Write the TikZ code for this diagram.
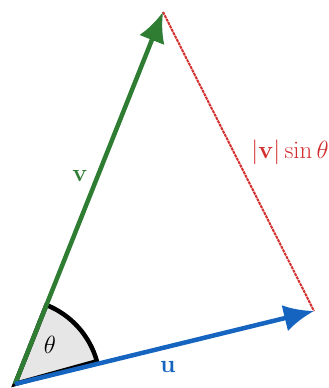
\documentclass[tikz,border=0pt]{standalone}
\usepackage{amsmath,amssymb}
\usepackage{xcolor}
\usetikzlibrary{arrows.meta}

\definecolor{vgreen}{RGB}{46,125,50}
\definecolor{ublue}{RGB}{21,101,192}
\definecolor{pred}{RGB}{211,47,47}
\definecolor{wedgegray}{RGB}{230,230,230}

\begin{document}
\begin{tikzpicture}[
    x=1pt, y=1pt,
    >={Latex[length=30pt,width=27pt]},
    vec/.style={->, line width=4.5pt},
    perp/.style={draw=pred, line width=2pt, dash pattern=on 3pt off 0.8pt},
    angwedge/.style={fill=wedgegray, draw=black, line width=4.5pt},
    lbl/.style={font=\fontsize{24}{28}\selectfont, inner sep=1pt}
]
\useasboundingbox (0,0) rectangle (329,388);

% Origin and vector tips.
\coordinate (O) at (15,4);
\coordinate (V) at (163,376);
\coordinate (U) at (314,77);

% Angle wedge between the two vectors.
\path[angwedge] (O) -- ++(15.5:85) arc[start angle=15.5, end angle=68.3, radius=85] -- cycle;
\node[lbl] (theta) at (50,43) {$\theta$};

% Height of the triangle.
\draw[perp] (V) -- (U);

% The vectors.
\draw[vec, vgreen] (O) -- (V);
\draw[vec, ublue] (O) -- (U);

% Labels.
\node[lbl, text=vgreen] (vlabel) at (80,212) {$\mathbf{v}$};
\node[lbl, text=ublue] (ulabel) at (168,21) {$\mathbf{u}$};
\node[lbl, text=pred] (hlabel) at (290,236) {$|\mathbf{v}|\sin\theta$};

\end{tikzpicture}
\end{document}
